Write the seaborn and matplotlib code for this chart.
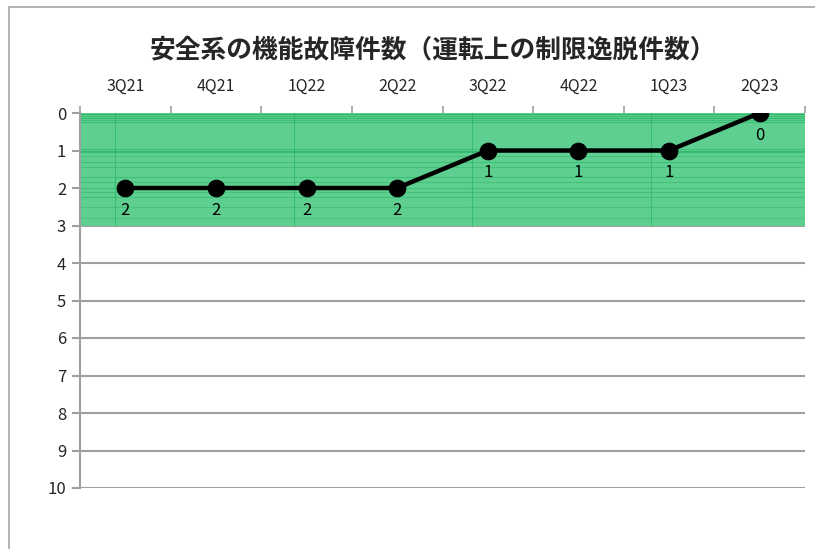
import numpy as np
import pandas as pd
import matplotlib
matplotlib.use("Agg")
import matplotlib.pyplot as plt
import seaborn as sns

quarters = ["3Q21", "4Q21", "1Q22", "2Q22", "3Q22", "4Q22", "1Q23", "2Q23"]
failures = [2, 2, 2, 2, 1, 1, 1, 0]
band_low, band_high = 0, 3
y_ticks = list(range(0, 11))

sns.set_theme(style="white")
plt.rcParams['font.family'] = ['Noto Sans CJK JP', 'DejaVu Sans']

df = pd.DataFrame({"quarter": quarters, "count": failures})
df["pos"] = np.arange(len(quarters))

fig = plt.figure(figsize=(8.15, 5.49), dpi=100)
# outer chart frame
fig.patches.append(plt.Rectangle((9 / 815, -0.05), 1.1, 1 - 7 / 549 + 0.05,
                                 transform=fig.transFigure, fill=False,
                                 edgecolor="#a6a6a6", linewidth=1.2))
ax = fig.add_axes([80 / 815, 61 / 549, 725 / 815, 375 / 549])

for yv in y_ticks[1:]:
    ax.axhline(yv, color="#a0a0a0", lw=1.5, zorder=0.2)

# green band with streaky texture
ax.axhspan(band_low, band_high, color="#5ecf90", zorder=0.4, lw=0)
for yy, a in [(0.03, 0.8), (0.08, 0.6), (0.13, 0.7), (0.18, 0.5), (0.25, 0.6),
              (0.95, 0.5), (1.0, 0.7), (1.05, 0.6), (1.15, 0.4), (1.3, 0.5), (1.45, 0.4),
              (1.7, 0.5), (1.85, 0.4), (2.0, 0.5), (2.1, 0.4), (2.25, 0.5), (2.5, 0.4), (2.8, 0.3)]:
    ax.plot([-0.5, 7.5], [yy, yy], color="#22b060", lw=0.8, alpha=a, zorder=0.5)
for xx in [-0.11, 1.86, 3.83, 5.8]:
    ax.plot([xx, xx], [0, 3], color="#22b060", lw=0.8, alpha=0.6, zorder=0.5)

sns.lineplot(data=df, x="pos", y="count", ax=ax, color="black", lw=3.2,
             marker="o", markersize=12, markeredgecolor="black", zorder=3)

for p, v in zip(df["pos"], df["count"]):
    ax.annotate(str(v), (p, v), xytext=(0, -10), textcoords="offset points",
                ha="center", va="top", fontsize=12, color="black", zorder=4)

ax.set_xlim(-0.5, len(quarters) - 0.5)
ax.set_ylim(10, 0)
ax.xaxis.tick_top()
ax.set_xticks(df["pos"])
ax.set_xticklabels(quarters, fontsize=11.5)
ax.set_xticks(np.arange(-0.5, len(quarters)), minor=True)
ax.tick_params(axis="x", which="major", length=0, pad=13)
ax.tick_params(axis="x", which="minor", length=5, color="#a0a0a0", width=1.2, top=True)
ax.set_yticks(y_ticks)
ax.set_yticklabels([str(t) for t in y_ticks], fontsize=12)
ax.tick_params(axis="y", length=6, color="#a0a0a0", width=1.5, left=True, pad=4)
ax.set_xlabel("")
ax.set_ylabel("")

for s in ["right", "bottom", "top"]:
    ax.spines[s].set_visible(False)
ax.spines["left"].set_color("#a0a0a0")
ax.spines["left"].set_linewidth(1.5)

fig.text(433 / 815, 1 - 50 / 549, "安全系の機能故障件数（運転上の制限逸脱件数）",
         ha="center", va="center", fontsize=18.5, fontweight="bold")

fig.savefig("out.png", dpi=100)
